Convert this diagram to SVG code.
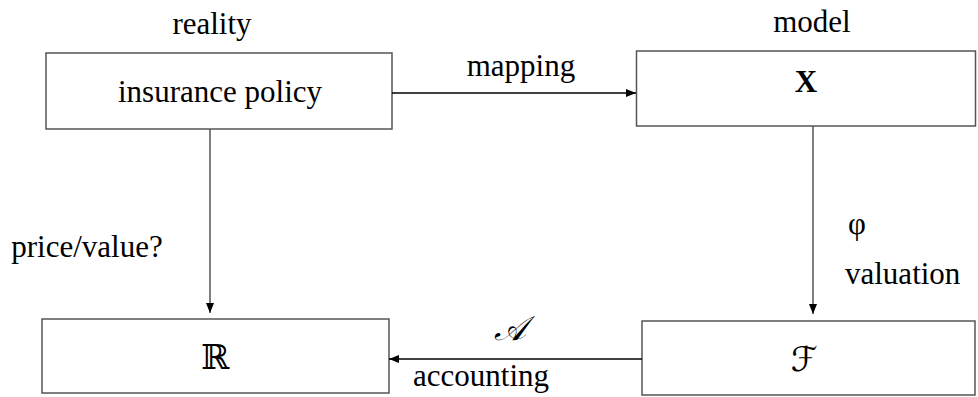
<svg xmlns="http://www.w3.org/2000/svg" width="978" height="397" viewBox="0 0 978 397">
<style>
.box{fill:#fff;stroke:#555;stroke-width:1.5}
.t{font-family:"Liberation Serif","Times New Roman",serif;font-size:31px;fill:#000}
.m{text-anchor:middle}
.math{font-family:"DejaVu Serif","DejaVu Sans","Liberation Serif",serif;font-size:34px;fill:#000;text-anchor:middle}
.v{stroke:#555;stroke-width:1.5;fill:none}
.h{stroke:#000;stroke-width:1.3;fill:none}
</style>
<defs>
<marker id="ah" markerWidth="10" markerHeight="8" refX="10" refY="4" orient="auto" markerUnits="userSpaceOnUse">
<path d="M0,0 L10,4 L0,8 Z" fill="#000"/>
</marker>
</defs>
<text class="t m" x="212" y="34">reality</text>
<text class="t m" x="812" y="32">model</text>
<g id="policy">
<rect class="box" x="46" y="53" width="346" height="76"/>
<text class="t m" x="220" y="102">insurance policy</text>
</g>
<g id="X">
<rect class="box" x="636.5" y="51" width="339" height="75"/>
<text class="t m" x="806" y="92" font-weight="bold" font-size="28">X</text>
</g>
<g id="R">
<rect class="box" x="42" y="319" width="347" height="74"/>
<text class="math" x="215.5" y="369">ℝ</text>
</g>
<g id="F">
<rect class="box" x="642" y="321" width="333" height="74"/>
<text class="math" x="804" y="371" font-style="italic">ℱ</text>
</g>
<g id="connectors">
<line class="h" x1="392" y1="93" x2="636" y2="93" marker-end="url(#ah)"/>
<line class="h" x1="642" y1="359" x2="389" y2="359" marker-end="url(#ah)"/>
<line class="v" x1="210" y1="129" x2="210" y2="313" marker-end="url(#ah)"/>
<line class="v" x1="813" y1="126" x2="813" y2="314" marker-end="url(#ah)"/>
<text class="t m" x="521" y="76">mapping</text>
<text class="t m" x="481" y="386">accounting</text>
<text class="math" x="510" y="340" font-style="italic">𝒜</text>
<text class="t m" x="87" y="257">price/value?</text>
<text class="t m" x="857" y="234">φ</text>
<text class="t" x="845" y="284">valuation</text>
</g>
</svg>
